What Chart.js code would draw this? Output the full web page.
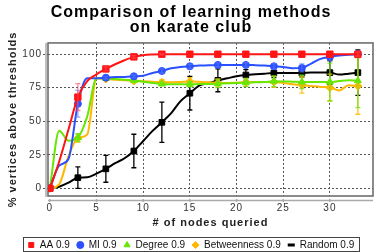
<!DOCTYPE html>
<html>
<head>
<meta charset="utf-8">
<title>Comparison of learning methods on karate club</title>
<script src="https://cdn.jsdelivr.net/npm/chart.js@4.4.1/dist/chart.umd.min.js"></script>
<style>
  html, body { margin: 0; padding: 0; background: #fff; }
  #chart { display: block; }
</style>
</head>
<body>
<canvas id="chart" width="382" height="252"></canvas>
<script>
// ----- Data -----
const nodes = [0, 1, 2, 3, 4, 5, 6, 7, 8, 9, 10, 11, 12, 13, 14, 15, 16,
               17, 18, 19, 20, 21, 22, 23, 24, 25, 26, 27, 28, 29, 30, 31, 32, 33];

const aa = [0, 20, 44, 68, 80, 85, 89, 92.5, 95.5, 98, 99.3, 99.8, 100, 100, 100, 100, 100,
            100, 100, 100, 100, 100, 100, 100, 100, 100, 100, 100, 100, 100, 100, 100, 100, 100];
const mi = [0, 17, 22, 63, 82, 82, 82.5, 83, 83, 83.5, 84, 86, 87.5, 89.5, 90.5, 91, 91.5,
            91.7, 92, 92, 92, 92, 91.8, 91.5, 91, 90.5, 89.5, 89.8, 93, 96.5, 98, 99, 99.5, 100];
const degree = [0, 43, 35.5, 37.8, 53.5, 82, 82, 81.5, 81, 80.3, 79.5, 78.5, 77.8, 77.5, 77.5, 77.6, 77.7,
                77.8, 78, 78.3, 78.5, 78.8, 79, 79.3, 79.8, 79.7, 79.5, 79.3, 79.3, 79.3, 79.3, 80, 80.6, 80.2];
const betweenness = [0, 3, 24, 37.5, 40, 82, 81.5, 81, 80.5, 80, 79.8, 79.5, 79, 79, 79.3, 79.6, 79.4,
                     79, 78.6, 78.6, 78.8, 79, 79.2, 79.3, 79.3, 78.5, 77.6, 77, 76.3, 75.6, 75.1, 73, 76.8, 76.2];
const random = [0, 1.2, 4.2, 7.9, 8.2, 11, 14.5, 18.7, 22.4, 27.8, 35.3, 42.8, 49.2, 56, 65, 70.9, 76.5,
                78.5, 80.5, 82, 83.5, 84.5, 85, 85.5, 86, 86, 86, 86, 86.3, 86.3, 86.3, 84.8, 85.5, 86.3];

// markers + error bars only every 3rd node
const markerNodes = [0, 3, 6, 9, 12, 15, 18, 21, 24, 27, 30, 33];
const aaErr = [0, 10, 1.5, 1, 0.5, 0, 0, 0, 0, 0, 0, 1.5];
const miErr = [0, 10, 1, 1, 1.5, 1.5, 1.5, 1.5, 2, 3, 3, 1];
const degreeErr = [0, 3, 1, 1, 1, 2, 3, 3, 4, 5, 14, 20];
const betweennessErr = [0, 3, 1, 1, 2, 3, 3, 3, 4, 6, 10, 21];
const randomErr = [0, 8, 10, 12.5, 15, 12.5, 8.5, 4, 3.5, 3, 9, 17];

const xTicks = [0, 5, 10, 15, 20, 25, 30];
const yTicks = [0, 25, 50, 75, 100];

Chart.defaults.font.family = '"Liberation Sans", Arial, sans-serif';

const pts = vals => nodes.map((n, i) => ({ x: n, y: vals[i] }));

function series(label, vals, errs, color, errColor, style, radius) {
  return {
    label,
    data: pts(vals),
    errors: errs,
    errorColor: errColor,
    borderColor: color,
    backgroundColor: color,
    borderWidth: 2,
    cubicInterpolationMode: 'monotone',
    pointStyle: style,
    pointBackgroundColor: color,
    pointBorderColor: color,
    pointBorderWidth: 1,
    pointRadius: c => markerNodes.includes(nodes[c.dataIndex]) ? radius : 0,
    pointHoverRadius: 0
  };
}

// ----- letter spacing like the original plot (all text except legend) -----
const spacing = {
  id: 'spacing',
  afterInit(chart) {
    const lg = chart.legend;
    const fit = lg.fit.bind(lg);
    const draw = lg.draw.bind(lg);
    lg.fit = function () {
      this.ctx.letterSpacing = '0px';
      fit();
      this.ctx.letterSpacing = '1px';
      this.height = 19;
    };
    lg.draw = function () {
      this.ctx.letterSpacing = '0px';
      draw();
      this.ctx.letterSpacing = '1px';
    };
  },
  beforeUpdate(chart) { chart.ctx.letterSpacing = '1px'; },
  beforeDraw(chart) { chart.ctx.letterSpacing = '1px'; }
};

// ----- plot frame + offset axis lines -----
const frame = {
  id: 'frame',
  beforeDatasetsDraw(chart) {
    const { ctx, chartArea: a, scales } = chart;
    ctx.save();
    ctx.strokeStyle = '#aaa';
    ctx.lineWidth = 1.5;
    ctx.beginPath();
    ctx.moveTo(a.left - 2, a.top);
    ctx.lineTo(a.left - 2, a.bottom + 1);
    ctx.moveTo(a.left, a.bottom + 4.5);
    ctx.lineTo(a.right, a.bottom + 4.5);
    scales.x.ticks.forEach(t => {
      const px = scales.x.getPixelForValue(t.value);
      ctx.moveTo(px, a.bottom + 3);
      ctx.lineTo(px, a.bottom + 6);
    });
    ctx.stroke();
    ctx.strokeStyle = '#666';
    ctx.strokeRect(a.left, a.top, a.right - a.left, a.bottom - a.top);
    ctx.restore();
  },
  afterDraw(chart) {
    // box round the legend
    const lg = chart.legend;
    const pad = lg.options.labels.padding;
    const w = lg.lineWidths[0];
    const start = (lg.left + pad + lg.right - w) / 2;
    const ctx = chart.ctx;
    ctx.save();
    ctx.strokeStyle = '#444';
    ctx.lineWidth = 1;
    ctx.strokeRect(Math.round(start - 5) + 0.5, Math.round(lg.top + 4) + 0.5,
                   Math.round(w - pad + 10), 14);
    ctx.restore();
  }
};

// ----- error bars -----
const errorBars = {
  id: 'errorBars',
  afterDatasetDraw(chart, args) {
    const ds = chart.data.datasets[args.index];
    if (!ds.errors) return;
    const { ctx, chartArea: a, scales: { x, y } } = chart;
    ctx.save();
    ctx.beginPath();
    ctx.rect(a.left, a.top, a.right - a.left, a.bottom - a.top);
    ctx.clip();
    ctx.strokeStyle = ds.errorColor;
    ctx.lineWidth = 1.3;
    ctx.beginPath();
    markerNodes.forEach((n, i) => {
      const e = ds.errors[i];
      if (!e) return;
      const p = ds.data.find(d => d.x === n);
      const px = x.getPixelForValue(n);
      const top = y.getPixelForValue(p.y + e);
      const bot = y.getPixelForValue(p.y - e);
      ctx.moveTo(px, top); ctx.lineTo(px, bot);
      ctx.moveTo(px - 2.5, top); ctx.lineTo(px + 2.5, top);
      ctx.moveTo(px - 2.5, bot); ctx.lineTo(px + 2.5, bot);
    });
    ctx.stroke();
    ctx.restore();
  }
};

new Chart(document.getElementById('chart'), {
  type: 'line',
  data: {
    datasets: [
      series('AA 0.9', aa, aaErr, '#ff1414', 'rgba(255,70,90,0.65)', 'rect', 4.5),
      series('MI 0.9', mi, miErr, '#2b50ff', 'rgba(90,120,255,0.65)', 'circle', 3.5),
      series('Degree 0.9', degree, degreeErr, '#66e600', 'rgba(110,230,20,0.85)', 'triangle', 4),
      series('Betweenness 0.9', betweenness, betweennessErr, '#ffb700', 'rgba(255,185,0,0.85)', 'rectRot', 4),
      series('Random 0.9', random, randomErr, '#000000', '#000000', 'rect', 4)
    ]
  },
  options: {
    responsive: false,
    animation: false,
    devicePixelRatio: 1,
    layout: { padding: 0 },
    plugins: {
      tooltip: { enabled: false },
      title: {
        display: true,
        text: ['Comparison of learning methods', 'on karate club'],
        color: '#000',
        font: { size: 16, weight: 'bold', lineHeight: 0.92 },
        padding: { top: 5.5, bottom: 8 }
      },
      legend: {
        position: 'bottom',
        labels: {
          usePointStyle: true,
          boxWidth: 7,
          boxHeight: 5,
          padding: 7,
          color: '#111',
          font: { size: 10 },
          generateLabels(chart) {
            const items = Chart.defaults.plugins.legend.labels.generateLabels(chart);
            items.forEach(it => {
              it.lineWidth = 1;
              if (it.text.startsWith('Random')) {
                it.pointStyle = 'line';
                it.lineWidth = 3;
              }
            });
            return items;
          }
        }
      }
    },
    scales: {
      x: {
        type: 'linear',
        min: -0.2,
        max: 34.62,
        afterBuildTicks: s => { s.ticks = xTicks.map(v => ({ value: v })); },
        afterFit: s => { s.height = 37; },
        grid: {
          color: c => (c.tick && c.tick.value === 0) ? 'rgba(0,0,0,0)' : '#555',
          lineWidth: 1,
          drawTicks: false
        },
        border: { display: false, dash: [2, 2] },
        ticks: { color: '#333', padding: 6, font: { size: 10 } },
        title: {
          display: true,
          text: '# of nodes queried',
          color: '#222',
          font: { size: 11, weight: 'bold' },
          padding: { top: 0, bottom: 3.7 }
        }
      },
      y: {
        min: -5.75,
        max: 108.4,
        afterBuildTicks: s => { s.ticks = yTicks.map(v => ({ value: v })); },
        afterFit: s => { s.width = 48; },
        grid: {
          color: '#555',
          lineWidth: 1,
          tickLength: 5,
          tickColor: '#555',
          tickBorderDash: [2, 2]
        },
        border: { display: false, dash: [2, 2] },
        ticks: { color: '#333', padding: 1, font: { size: 10 } },
        title: {
          display: true,
          text: '% vertices above thresholds',
          color: '#222',
          font: { size: 11, weight: 'bold' },
          padding: { top: 6.4, bottom: 0 }
        }
      },
      pad: {
        position: 'right',
        display: true,
        ticks: { display: false },
        grid: { display: false },
        border: { display: false },
        afterFit: s => { s.width = 9; }
      }
    }
  },
  plugins: [spacing, frame, errorBars]
});
</script>
</body>
</html>
